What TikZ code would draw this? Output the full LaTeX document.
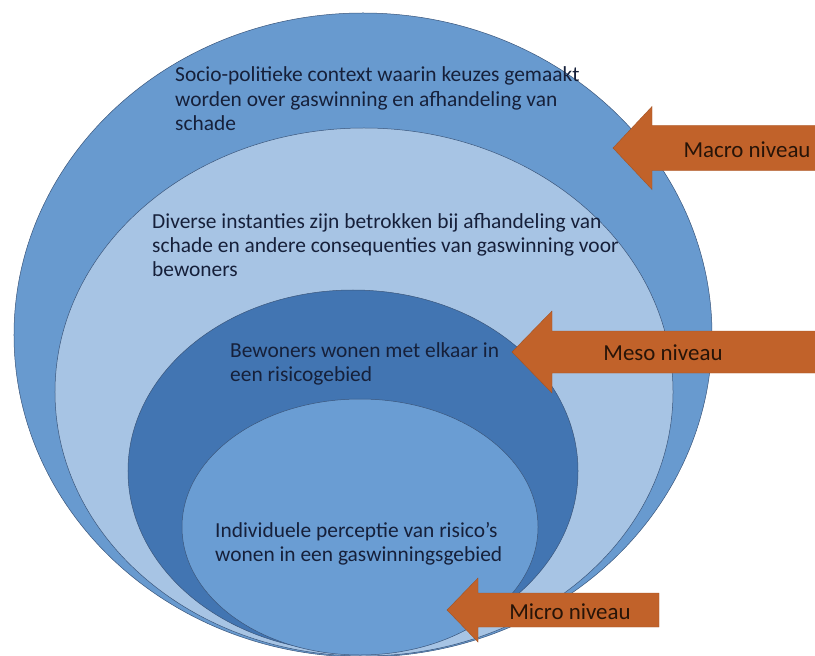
\documentclass[tikz,border=0pt]{standalone}
\usepackage{fontspec}
\setmainfont{Carlito}
\usepackage{xcolor}
\usetikzlibrary{shapes.geometric}

\definecolor{ringblue}{RGB}{104,154,207}
\definecolor{paleblue}{RGB}{167,196,228}
\definecolor{deepblue}{RGB}{66,117,178}
\definecolor{coreblue}{RGB}{106,157,211}
\definecolor{rimblue}{RGB}{58,86,124}
\definecolor{pijlrood}{RGB}{193,98,42}
\definecolor{inktblauw}{RGB}{22,32,58}

\tikzset{
  laag/.style={ellipse, draw=rimblue, line width=0.5bp, inner sep=0pt},
  tekst/.style={align=left, anchor=west, text=inktblauw, inner sep=0pt,
    font=\fontsize{21.5}{24.5}\selectfont},
  pijl/.style={fill=pijlrood, draw=pijlrood!85!black, line width=0.4bp},
  pijltekst/.style={text=black!80!pijlrood, inner sep=0pt,
    font=\fontsize{23}{26}\selectfont}
}

\begin{document}
\begin{tikzpicture}[x=1bp, y=-1bp]
\useasboundingbox (0,0) rectangle (815,656);
\fill[white] (0,0) rectangle (815,656);

% nested levels, all resting on the same bottom
\node[laag, fill=ringblue, minimum width=698bp, minimum height=644bp] (macro) at (363,335) {};
\node[laag, fill=paleblue, minimum width=618bp, minimum height=528bp] (meso) at (364,392) {};
\node[laag, fill=deepblue, minimum width=450bp, minimum height=362bp] (bewoners) at (353,471) {};
\node[laag, fill=coreblue, minimum width=356bp, minimum height=256bp] (micro) at (360,527) {};

\node[tekst] (t1) at (175,99) {Socio-politieke context waarin keuzes gemaakt\\worden over gaswinning en afhandeling van\\schade};
\node[tekst] (t2) at (152,245) {Diverse instanties zijn betrokken bij afhandeling van\\schade en andere consequenties van gaswinning voor\\bewoners};
\node[tekst] (t3) at (230,364) {Bewoners wonen met elkaar in\\een risicogebied};
\node[tekst] (t4) at (215,544) {Individuele perceptie van risico’s\\wonen in een gaswinningsgebied};

% level arrows
\fill[pijl] (613,148) -- (652,106.5) -- (652,125.5) -- (820,125.5)
  -- (820,170.5) -- (652,170.5) -- (652,189.5) -- cycle;
\fill[pijl] (512,352) -- (552,311) -- (552,331) -- (820,331)
  -- (820,373) -- (552,373) -- (552,393) -- cycle;
\fill[pijl] (447,610) -- (478,578) -- (478,593) -- (659,593)
  -- (659,627) -- (478,627) -- (478,642) -- cycle;

\node[pijltekst] (l1) at (747,150) {Macro niveau};
\node[pijltekst] (l2) at (663,353) {Meso niveau};
\node[pijltekst] (l3) at (570,612) {Micro niveau};
\end{tikzpicture}
\end{document}
